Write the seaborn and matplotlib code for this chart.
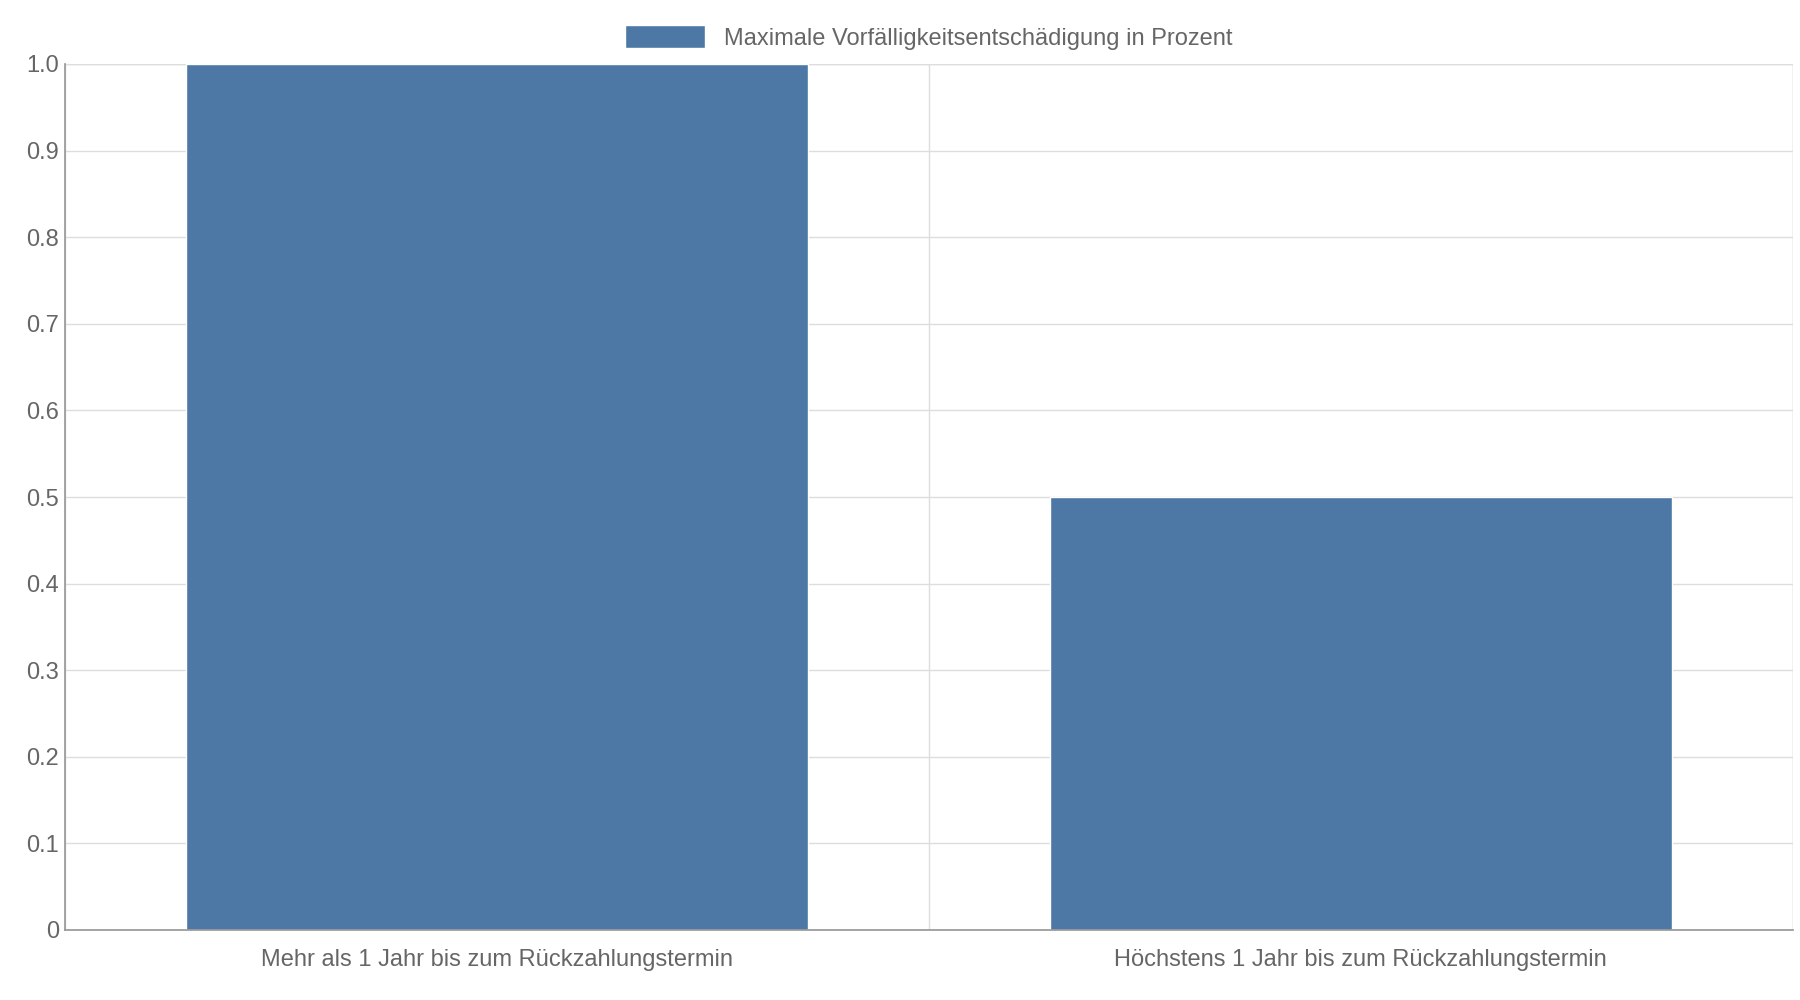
import matplotlib
matplotlib.use("Agg")
import matplotlib.pyplot as plt
import seaborn as sns
import pandas as pd

categories = ["Mehr als 1 Jahr bis zum Rückzahlungstermin", "Höchstens 1 Jahr bis zum Rückzahlungstermin"]
values = [1.0, 0.5]
series_name = "Maximale Vorfälligkeitsentschädigung in Prozent"
yticks = [0, 0.1, 0.2, 0.3, 0.4, 0.5, 0.6, 0.7, 0.8, 0.9, 1.0]
ytick_labels = ["0", "0.1", "0.2", "0.3", "0.4", "0.5", "0.6", "0.7", "0.8", "0.9", "1.0"]

sns.set_theme(style="white")
plt.rcParams['font.family'] = ['Liberation Sans', 'DejaVu Sans']

df = pd.DataFrame({"cat": categories, "val": values})
fig = plt.figure(figsize=(18, 10), dpi=100)
ax = fig.add_axes([0.036, 0.07, 0.96, 0.866])
color = "#4d78a6"
sns.barplot(data=df, x="cat", y="val", color=color, width=0.72, saturation=1, ax=ax, label=series_name)
ax.set_xlim(-0.5, 1.5)
ax.set_ylim(0, 1.0)
ax.set_yticks(yticks)
ax.set_yticklabels(ytick_labels)
ax.set_xlabel("")
ax.set_ylabel("")
ax.set_xticks([-0.5, 0.5, 1.5], minor=True)
ax.tick_params(axis="x", which="major", length=0, pad=14, labelsize=17, labelcolor="#666666")
ax.tick_params(axis="x", which="minor", length=18, color="#cccccc", direction="out")
ax.tick_params(axis="y", length=0, pad=4, labelsize=17, labelcolor="#666666")
ax.grid(axis="y", color="#dddddd", linewidth=1)
ax.grid(axis="x", which="minor", color="#dddddd", linewidth=1)
ax.set_axisbelow(True)
for s in ["top", "right"]:
    ax.spines[s].set_visible(False)
ax.spines["left"].set_color("#999999")
ax.spines["bottom"].set_color("#999999")
ax.axhline(1.0, color="#dddddd", lw=1, zorder=0)
ax.axvline(1.5, color="#dddddd", lw=1, zorder=0)
ax.legend(loc="lower center", bbox_to_anchor=(0.5, 1.0), frameon=False, fontsize=17,
          labelcolor="#666666", handlelength=3.4, handleheight=1.1, borderaxespad=0.2)
fig.savefig("out.png", dpi=100)
